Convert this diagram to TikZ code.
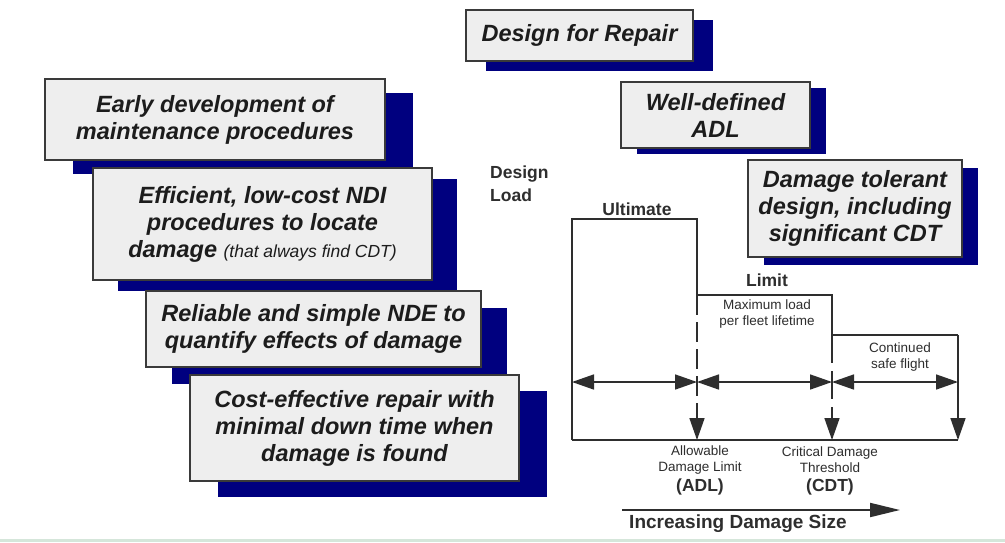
\documentclass[tikz,border=0pt]{standalone}
\usepackage{fontspec}
\setmainfont{Liberation Sans}
\usetikzlibrary{positioning,arrows.meta,shadows}
\definecolor{navy}{HTML}{00007F}
\definecolor{cardfill}{HTML}{EEEEEE}
\definecolor{cardline}{HTML}{3A3A3A}
\definecolor{ink}{HTML}{1C1C1C}
\definecolor{chartline}{HTML}{2E2E2E}
\definecolor{band}{HTML}{D5E6DA}

\begin{document}
\begin{tikzpicture}[x=1pt,y=-1pt,>={Triangle[length=22pt,width=15pt]},
  cardbox/.style={draw=cardline,fill=cardfill,line width=1.3pt,text=ink,align=center,inner sep=0pt,font=\fontsize{23.5}{27}\selectfont\bfseries\itshape},
  navyshadow/.style 2 args={drop shadow={shadow xshift=#1pt,shadow yshift=-#2pt,fill=navy,opacity=1}},
  chart/.style={draw=chartline,line width=1.6pt},
  lbl/.style={text=chartline,inner sep=0pt,font=\fontsize{17.5}{23}\selectfont\bfseries},
  small/.style={text=chartline,inner sep=0pt,align=center,font=\fontsize{13.5}{16}\selectfont}]
  \useasboundingbox[fill=white] (0,0) rectangle (1005,542);
  \fill[band] (0,539) rectangle (1005,542);

  % boxes, right column
  \node[cardbox,navyshadow={20}{10},minimum width=227pt,minimum height=51pt] (repair) at (579.5,35.5){Design for Repair};
  \node[cardbox,navyshadow={16}{6},minimum width=189pt,minimum height=66pt] (adl) at (715.5,115){Well-defined\\ADL};
  \node[cardbox,navyshadow={16}{8},minimum width=214pt,minimum height=97pt] (tolerant) at (855,208.5){Damage tolerant\\design, including\\significant CDT};

  % boxes, left column
  \node[cardbox,navyshadow={28}{14},minimum width=340pt,minimum height=81pt] (early) at (215,119.5){Early development of\\maintenance procedures};
  \node[cardbox,navyshadow={25}{11},minimum width=339pt,minimum height=112pt] (ndi) at (262.5,224){Efficient, low-cost NDI\\procedures to locate\\damage {\mdseries\fontsize{17.5}{27}\selectfont (that always find CDT)}};
  \node[cardbox,navyshadow={26}{17},minimum width=335pt,minimum height=76pt] (nde) at (313.5,329){Reliable and simple NDE to\\quantify effects of damage};
  \node[cardbox,navyshadow={28}{16},minimum width=329pt,minimum height=106pt] (fix) at (354.5,428){Cost-effective repair with\\minimal down time when\\damage is found};

  % load steps
  \coordinate (ul) at (572,219);
  \coordinate (ur) at (697,219);
  \coordinate (lim) at (697,295);
  \coordinate (limr) at (832,295);
  \coordinate (cdt) at (832,335);
  \coordinate (cdtr) at (958,335);
  \coordinate (o) at (572,440);
  \coordinate (a) at (697,440);
  \coordinate (c) at (832,440);
  \coordinate (e) at (958,440);
  \draw[chart] (o) -- (ul) -- (ur) -- (lim) -- (limr) -- (cdt) -- (cdtr);
  \draw[chart] (o) -- (e);
  \draw[chart,->] (cdtr) -- (e);
  \draw[chart,->,dash pattern=on 20pt off 7pt] (lim) -- (a);
  \draw[chart,->,dash pattern=on 28pt off 8pt] (cdt) -- (c);

  % spans
  \coordinate (h0) at (572,382);
  \coordinate (h1) at (697,382);
  \coordinate (h2) at (832,382);
  \coordinate (h3) at (958,382);
  \draw[chart,<->] (h0) -- (h1);
  \draw[chart,<->] (h1) -- (h2);
  \draw[chart,<->] (h2) -- (h3);

  \node[lbl,align=left,anchor=north west] (load) at (490,166){Design\\Load};
  \node[lbl] (ult) at (637,209){Ultimate};
  \node[lbl] (limit) at (767,280){Limit};
  \node[small] (fleet) at (767,314){Maximum load\\per fleet lifetime};
  \node[small] (safe) at (900,357){Continued\\safe flight};
  \node[small] (allow) at (700,460){Allowable\\Damage Limit};
  \node[lbl] (adltag) at (700,487){(ADL)};
  \node[small] (crit) at (830,460){Critical Damage\\Threshold};
  \node[lbl] (cdttag) at (830,487){(CDT)};

  % damage size axis
  \coordinate (s0) at (622,510);
  \coordinate (s1) at (900,510);
  \draw[chart,line width=2pt,-{Triangle[length=30pt,width=14pt]}] (s0) -- (s1);
  \node[lbl,font=\fontsize{19}{23}\selectfont\bfseries] (size) at (738,524){Increasing Damage Size};
\end{tikzpicture}
\end{document}
